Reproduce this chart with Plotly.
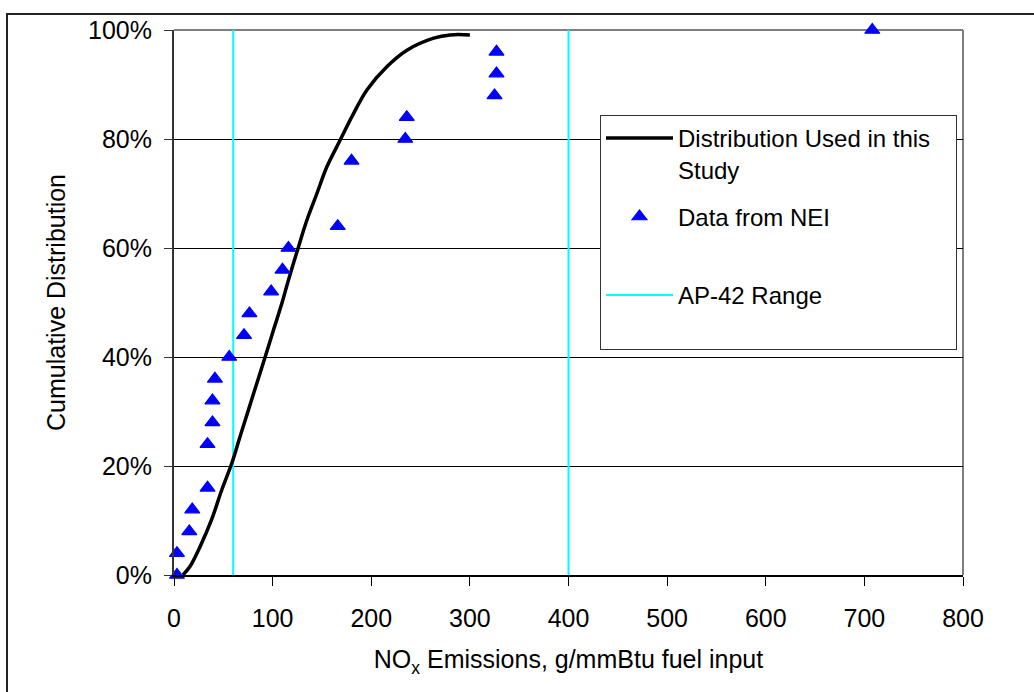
import plotly.graph_objects as go

# Distribution used in this study
curve_x = [9, 16, 26.4, 38, 48.4, 58.6, 67, 75.5, 84, 92.4, 100.8, 109.3, 116, 126.2,
           134.7, 144.9, 155, 168.5, 180.4, 195.6, 216, 236.2, 263.3, 280, 300]
curve_y = [0.0, 0.015, 0.052, 0.101, 0.156, 0.205, 0.254, 0.303, 0.352, 0.40, 0.449,
           0.498, 0.541, 0.602, 0.651, 0.70, 0.749, 0.798, 0.841, 0.89, 0.933, 0.963,
           0.985, 0.991, 0.991]

# Data from NEI
nei_x = [3, 3, 15.5, 18.5, 34, 34, 39, 39, 41.5, 56, 71, 76.5, 98.5, 110, 116, 166,
         180, 234.5, 236, 325, 327, 327, 708]
nei_y = [0.00, 0.04, 0.08, 0.12, 0.16, 0.24, 0.28, 0.32, 0.36, 0.40, 0.44, 0.48, 0.52,
         0.56, 0.60, 0.64, 0.76, 0.80, 0.84, 0.88, 0.92, 0.96, 1.00]

# AP-42 range
ap42_low = 60
ap42_high = 400

x_ticks = [0, 100, 200, 300, 400, 500, 600, 700, 800]
y_ticks = [0, 0.2, 0.4, 0.6, 0.8, 1.0]

FONT = "Liberation Sans, Arial, sans-serif"
NB = "\u00a0"

fig = go.Figure()

fig.add_trace(go.Scatter(
    x=[ap42_low, ap42_low, None, ap42_high, ap42_high],
    y=[0, 1, None, 0, 1],
    mode="lines", line=dict(color="#00FFFF", width=2),
    name="AP-42 Range<br>" + NB, legendrank=3, legendgroup="c"))

fig.add_trace(go.Scatter(
    x=curve_x, y=curve_y, mode="lines",
    line=dict(color="black", width=3.5, shape="spline"),
    name="Distribution Used in this" + NB * 3 + "<br>Study", legendrank=1, legendgroup="a"))

fig.add_trace(go.Scatter(
    x=nei_x, y=nei_y, mode="markers", cliponaxis=False,
    marker=dict(symbol="triangle-up", color="#0000FF", size=13,
                line=dict(width=1.2, color="#0000FF")),
    name="Data from NEI<br>" + NB, legendrank=2, legendgroup="b"))

W, H = 1034, 692
L, R, T, B = 174, 71, 30, 117
pw, ph = W - L - R, H - T - B

def px_x(p):
    return (p - L) / pw

def px_y(p):
    return (H - B - p) / ph

fig.update_layout(
    width=W, height=H,
    margin=dict(l=L, r=R, t=T, b=B),
    paper_bgcolor="white", plot_bgcolor="white",
    font=dict(family=FONT, size=25, color="black"),
    showlegend=True,
    legend=dict(
        x=px_x(600), y=px_y(115), xanchor="left", yanchor="top",
        bgcolor="white", bordercolor="#333333", borderwidth=1,
        font=dict(family=FONT, size=24, color="black"),
        traceorder="grouped", tracegroupgap=13, valign="top",
        itemwidth=67,
    ),
    xaxis=dict(
        range=[0, 800], tickvals=x_ticks, ticktext=[str(v) for v in x_ticks],
        showgrid=False, zeroline=False,
        showline=True, linecolor="black", linewidth=1.5,
        ticks="outside", ticklen=9, tickcolor="black", tickwidth=1,
        ticklabelstandoff=11,
        title=dict(text="NO<sub>x</sub> Emissions, g/mmBtu fuel input",
                   font=dict(size=25), standoff=20),
    ),
    yaxis=dict(
        range=[0, 1], tickvals=y_ticks, tickformat=".0%",
        showgrid=True, gridcolor="black", gridwidth=1,
        zeroline=False,
        showline=True, linecolor="#333333", linewidth=2,
        ticks="outside", ticklen=8, tickcolor="#333333", tickwidth=1,
        ticklabelstandoff=7,
        title=dict(text="Cumulative Distribution", font=dict(size=25), standoff=15),
    ),
    shapes=[
        # plot area border (top and right in gray)
        dict(type="line", xref="paper", yref="paper", x0=0, x1=1, y0=1, y1=1,
             line=dict(color="#808080", width=2), layer="between"),
        dict(type="line", xref="paper", yref="paper", x0=1, x1=1, y0=0, y1=1,
             line=dict(color="#808080", width=2), layer="between"),
        # outer chart border (top and left edges; right/bottom are cut off)
        dict(type="line", xref="paper", yref="paper",
             x0=px_x(6), x1=px_x(1040), y0=px_y(14), y1=px_y(14),
             line=dict(color="#222222", width=2), layer="above"),
        dict(type="line", xref="paper", yref="paper",
             x0=px_x(7), x1=px_x(7), y0=px_y(14), y1=px_y(700),
             line=dict(color="#222222", width=2), layer="above"),
    ],
)

fig.write_html("out.html", config={"displayModeBar": False},
               post_script="document.body.style.margin='0px';")
